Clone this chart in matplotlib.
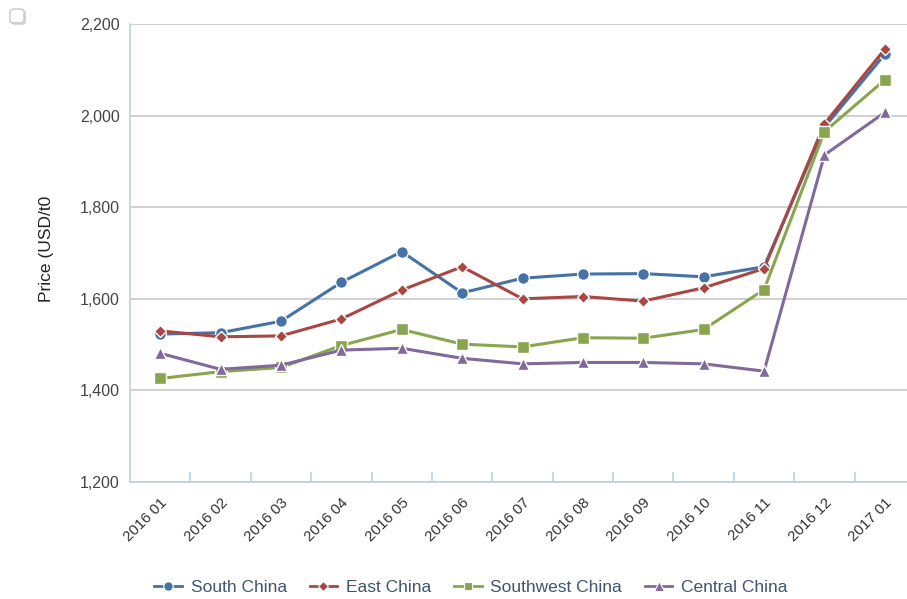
import matplotlib
matplotlib.use("Agg")
import matplotlib.pyplot as plt
from matplotlib.lines import Line2D
from matplotlib.patches import FancyBboxPatch
from matplotlib.ticker import FuncFormatter, FixedLocator

plt.rcParams['font.family'] = ['Liberation Sans', 'DejaVu Sans']

categories = ["2016 01", "2016 02", "2016 03", "2016 04", "2016 05", "2016 06",
              "2016 07", "2016 08", "2016 09", "2016 10", "2016 11", "2016 12", "2017 01"]
south_china = [1523, 1526, 1551, 1636, 1703, 1613, 1645, 1654, 1655, 1648, 1670, 1975, 2134]
east_china = [1530, 1517, 1519, 1556, 1619, 1670, 1600, 1605, 1595, 1624, 1666, 1982, 2145]
southwest_china = [1426, 1441, 1450, 1498, 1533, 1501, 1495, 1515, 1514, 1533, 1620, 1965, 2078]
central_china = [1481, 1446, 1455, 1488, 1492, 1470, 1458, 1461, 1461, 1458, 1442, 1914, 2007]
y_ticks = [1200, 1400, 1600, 1800, 2000, 2200]

series = [
    ("South China", south_china, "#4572A7", "o", 8.5),
    ("East China", east_china, "#AA4643", "D", 6.5),
    ("Southwest China", southwest_china, "#89A54E", "s", 8),
    ("Central China", central_china, "#80699B", "^", 8.5),
]

W, H = 907, 599
fig = plt.figure(figsize=(W / 100, H / 100), dpi=100)
left, right, top, bottom = 130, 915, 24, 482
ax = fig.add_axes([left / W, 1 - bottom / H, (right - left) / W, (bottom - top) / H])

x = list(range(len(categories)))
for name, vals, col, mk, ms in series:
    ax.plot(x, vals, color=col, lw=2.2, marker=mk, markersize=ms,
            markeredgecolor="white", markeredgewidth=1.0, zorder=3, label=name)

ax.set_xlim(-0.5, len(categories) - 0.5)
ax.set_ylim(1200, 2200)
ax.set_yticks(y_ticks)
ax.yaxis.set_major_formatter(FuncFormatter(lambda v, p: f"{int(v):,}"))
ax.grid(axis="y", color="#C8C8C8", lw=1.2)
ax.set_axisbelow(True)
for s in ["top", "right"]:
    ax.spines[s].set_visible(False)
ax.spines["left"].set_color("#C0D0E0")
ax.spines["bottom"].set_color("#C0D0E0")
ax.spines["left"].set_linewidth(1.2)
ax.spines["bottom"].set_linewidth(1.2)
ax.tick_params(axis="y", length=0, pad=7.5, labelsize=11.5, labelcolor="#444444")

ax.set_xticks(x)
ax.set_xticklabels(categories, rotation=45, ha="right", rotation_mode="anchor",
                   fontsize=10.8, color="#333333")
ax.tick_params(axis="x", which="major", length=0, pad=10)
ax.xaxis.set_minor_locator(FixedLocator([i + 0.5 for i in range(len(categories) - 1)]))
ax.tick_params(axis="x", which="minor", direction="in", length=7, color="#C0D0E0", width=1.2)

fig.text(47 / W, 1 - 249 / H, "Price (USD/t0", rotation=90, ha="center", va="center",
         fontsize=12.5, color="#222222")

handles = [Line2D([0], [0], color=col, lw=2, marker=mk, markersize=ms * 0.8,
                  markeredgecolor="white", markeredgewidth=0.8)
           for name, vals, col, mk, ms in series]
leg = fig.legend(handles, [s[0] for s in series], loc="center", ncol=4,
                 bbox_to_anchor=(471 / W, 1 - 587 / H), frameon=False,
                 fontsize=12.5, handlelength=1.6, columnspacing=1.3, handletextpad=0.5)
for t in leg.get_texts():
    t.set_color("#3E576F")

# small box icon at top-left (with soft shadow)
shadow = FancyBboxPatch((11 / W, 1 - 25 / H), 15 / W, 15 / H,
                        boxstyle="round,pad=0,rounding_size=0.005",
                        transform=fig.transFigure, facecolor="#D8D8D8",
                        edgecolor="none")
icon = FancyBboxPatch((10 / W, 1 - 23 / H), 14 / W, 14 / H,
                      boxstyle="round,pad=0,rounding_size=0.005",
                      transform=fig.transFigure, facecolor="white",
                      edgecolor="#C8C8C8", lw=1.0)
fig.patches.append(shadow)
fig.patches.append(icon)

fig.savefig("out.png", dpi=100)
